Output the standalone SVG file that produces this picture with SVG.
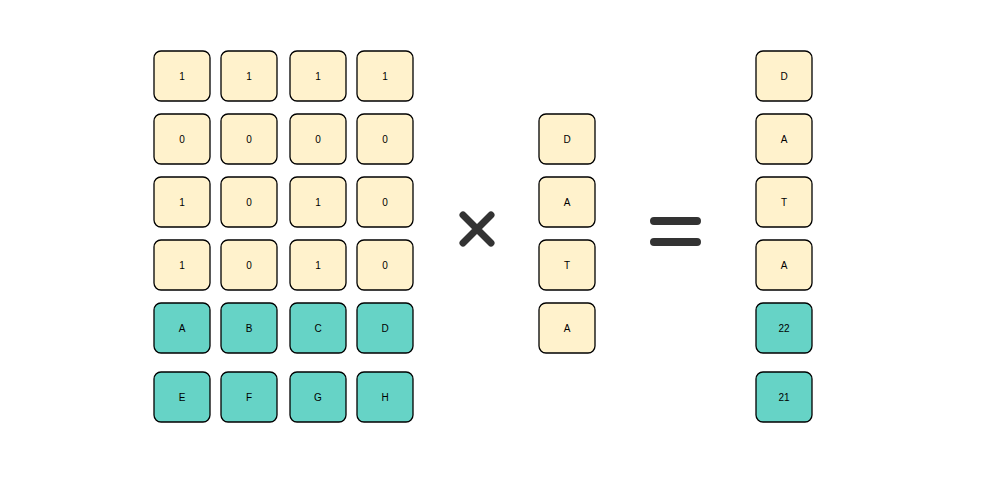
<svg xmlns="http://www.w3.org/2000/svg" width="984" height="494" viewBox="0 0 984 494">
<style>
.c rect{stroke:#000;stroke-width:1.3}
.y rect{fill:#FFF2CC}
.g rect{fill:#66D3C6}
text{font-family:"Liberation Sans",Arial,sans-serif;font-size:10px;fill:#000;text-anchor:middle;dominant-baseline:central}
.op{stroke:#333;stroke-linecap:round;fill:none}
</style>
<rect width="984" height="494" fill="#fff"/>
<defs>
<rect id="b" width="56" height="50" rx="7" ry="7"/>
</defs>
<g id="m11" class="c y"><rect x="154" y="51" width="56" height="50" rx="7"/><text x="182" y="76">1</text></g>
<g id="m12" class="c y"><rect x="221" y="51" width="56" height="50" rx="7"/><text x="249" y="76">1</text></g>
<g id="m13" class="c y"><rect x="290" y="51" width="56" height="50" rx="7"/><text x="318" y="76">1</text></g>
<g id="m14" class="c y"><rect x="357" y="51" width="56" height="50" rx="7"/><text x="385" y="76">1</text></g>
<g id="m21" class="c y"><rect x="154" y="114" width="56" height="50" rx="7"/><text x="182" y="139">0</text></g>
<g id="m22" class="c y"><rect x="221" y="114" width="56" height="50" rx="7"/><text x="249" y="139">0</text></g>
<g id="m23" class="c y"><rect x="290" y="114" width="56" height="50" rx="7"/><text x="318" y="139">0</text></g>
<g id="m24" class="c y"><rect x="357" y="114" width="56" height="50" rx="7"/><text x="385" y="139">0</text></g>
<g id="m31" class="c y"><rect x="154" y="177" width="56" height="50" rx="7"/><text x="182" y="202">1</text></g>
<g id="m32" class="c y"><rect x="221" y="177" width="56" height="50" rx="7"/><text x="249" y="202">0</text></g>
<g id="m33" class="c y"><rect x="290" y="177" width="56" height="50" rx="7"/><text x="318" y="202">1</text></g>
<g id="m34" class="c y"><rect x="357" y="177" width="56" height="50" rx="7"/><text x="385" y="202">0</text></g>
<g id="m41" class="c y"><rect x="154" y="240" width="56" height="50" rx="7"/><text x="182" y="265">1</text></g>
<g id="m42" class="c y"><rect x="221" y="240" width="56" height="50" rx="7"/><text x="249" y="265">0</text></g>
<g id="m43" class="c y"><rect x="290" y="240" width="56" height="50" rx="7"/><text x="318" y="265">1</text></g>
<g id="m44" class="c y"><rect x="357" y="240" width="56" height="50" rx="7"/><text x="385" y="265">0</text></g>
<g id="m51" class="c g"><rect x="154" y="303" width="56" height="50" rx="7"/><text x="182" y="328">A</text></g>
<g id="m52" class="c g"><rect x="221" y="303" width="56" height="50" rx="7"/><text x="249" y="328">B</text></g>
<g id="m53" class="c g"><rect x="290" y="303" width="56" height="50" rx="7"/><text x="318" y="328">C</text></g>
<g id="m54" class="c g"><rect x="357" y="303" width="56" height="50" rx="7"/><text x="385" y="328">D</text></g>
<g id="m61" class="c g"><rect x="154" y="372" width="56" height="50" rx="7"/><text x="182" y="397">E</text></g>
<g id="m62" class="c g"><rect x="221" y="372" width="56" height="50" rx="7"/><text x="249" y="397">F</text></g>
<g id="m63" class="c g"><rect x="290" y="372" width="56" height="50" rx="7"/><text x="318" y="397">G</text></g>
<g id="m64" class="c g"><rect x="357" y="372" width="56" height="50" rx="7"/><text x="385" y="397">H</text></g>
<g id="times"><path class="op" stroke-width="7" d="M463 215L491 243M491 215L463 243"/></g>
<g id="v1" class="c y"><rect x="539" y="114" width="56" height="50" rx="7"/><text x="567" y="139">D</text></g>
<g id="v2" class="c y"><rect x="539" y="177" width="56" height="50" rx="7"/><text x="567" y="202">A</text></g>
<g id="v3" class="c y"><rect x="539" y="240" width="56" height="50" rx="7"/><text x="567" y="265">T</text></g>
<g id="v4" class="c y"><rect x="539" y="303" width="56" height="50" rx="7"/><text x="567" y="328">A</text></g>
<g id="equals"><path class="op" stroke-width="8" d="M654 221H697M654 242H697"/></g>
<g id="r1" class="c y"><rect x="756" y="51" width="56" height="50" rx="7"/><text x="784" y="76">D</text></g>
<g id="r2" class="c y"><rect x="756" y="114" width="56" height="50" rx="7"/><text x="784" y="139">A</text></g>
<g id="r3" class="c y"><rect x="756" y="177" width="56" height="50" rx="7"/><text x="784" y="202">T</text></g>
<g id="r4" class="c y"><rect x="756" y="240" width="56" height="50" rx="7"/><text x="784" y="265">A</text></g>
<g id="r5" class="c g"><rect x="756" y="303" width="56" height="50" rx="7"/><text x="784" y="328">22</text></g>
<g id="r6" class="c g"><rect x="756" y="372" width="56" height="50" rx="7"/><text x="784" y="397">21</text></g>
<g id="connectors"/>
</svg>
